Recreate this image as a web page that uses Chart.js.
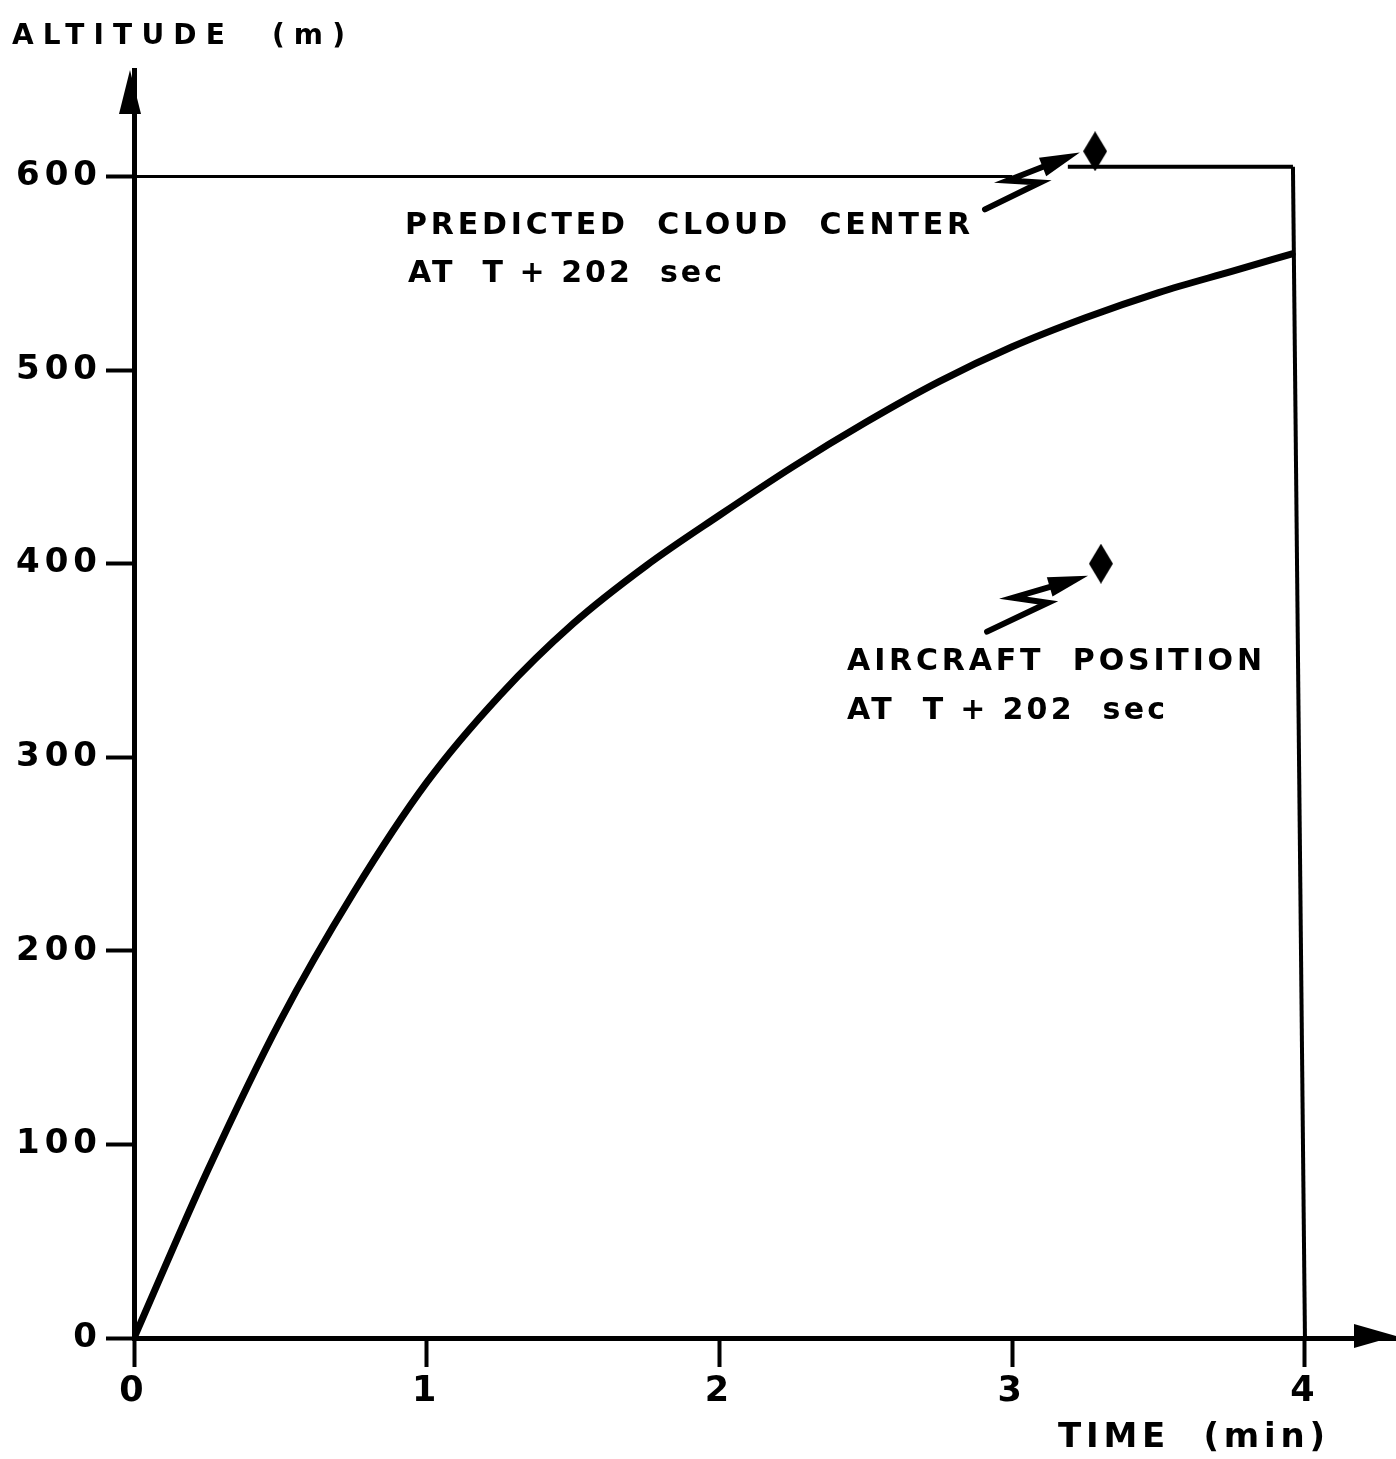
<!DOCTYPE html>
<html>
<head>
<meta charset="utf-8">
<script src="https://cdn.jsdelivr.net/npm/chart.js@4.4.1/dist/chart.umd.min.js"></script>
<style>
  html, body { margin: 0; padding: 0; background: #fff; overflow: hidden; }
  canvas { display: block; }
</style>
</head>
<body>
<canvas id="chart" width="1396" height="1459"></canvas>
<script>
// Cloud-top altitude versus time after release
const timeMin = [0, 0.25, 0.5, 0.75, 1.0, 1.25, 1.5, 1.75, 2.0, 2.25, 2.5, 2.75, 3.0, 3.25, 3.5, 3.75, 3.956];
const altitudeM = [0, 86, 164, 230, 287, 332, 369, 399, 425, 450, 473, 494, 512, 527, 540, 551, 560];

// Reference lines
const cloudLevelTime = [0, 3.0];
const cloudLevelAlt = [600, 600];
const boxTopTime = [3.19, 3.959];
const boxTopAlt = [605, 605];
const boxSideTime = [3.959, 4.0];
const boxSideAlt = [605, 0];

// Marked positions at T+202 s: predicted cloud centre, aircraft
const markerTime = [3.283, 3.303];
const markerAlt = [613, 400];

// Axis ticks
const xTickValues = [0, 1, 2, 3, 4];
const yTickValues = [0, 100, 200, 300, 400, 500, 600];

const FONT = "'DejaVu Sans', sans-serif";

function toXY(xs, ys) { return xs.map((x, i) => ({ x: x, y: ys[i] })); }

// Tall diamond marker
function diamondImage(w, h) {
  const c = document.createElement('canvas');
  c.width = w; c.height = h;
  const g = c.getContext('2d');
  g.fillStyle = '#000';
  g.beginPath();
  g.moveTo(w / 2, 0); g.lineTo(w, h / 2); g.lineTo(w / 2, h); g.lineTo(0, h / 2);
  g.closePath(); g.fill();
  return c;
}
const diamond = diamondImage(24, 40);

// Lettering spread evenly across a given width
function spacedText(ctx, text, x, y, width, font) {
  ctx.font = font;
  ctx.letterSpacing = '0px';
  const w = ctx.measureText(text).width;
  const ls = Math.max(0, (width - w) / (text.length - 1));
  ctx.letterSpacing = ls.toFixed(2) + 'px';
  ctx.fillText(text, x, y);
}

// Annotations (data units for anchor, pixel widths for lettering)
const labels = [
  { t: 0.926, a: 570.5, w: 565, size: 30, text: 'PREDICTED  CLOUD  CENTER' },
  { t: 0.936, a: 545.7, w: 314, size: 30, text: 'AT  T + 202  sec' },
  { t: 2.436, a: 345.2, w: 415, size: 30, text: 'AIRCRAFT  POSITION' },
  { t: 2.436, a: 319.6, w: 318, size: 30, text: 'AT  T + 202  sec' }
];
const boltArrows = [
  [[2.907, 583.0], [3.095, 596.9], [2.985, 597.9], [3.231, 612.4]],
  [[2.914, 364.9], [3.122, 379.8], [3.003, 382.4], [3.259, 393.8]]
];

const decorations = {
  id: 'decorations',
  beforeDraw(chart) {
    chart.ctx.letterSpacing = '5px';
  },
  afterDraw(chart) {
    const { ctx, chartArea, scales } = chart;
    const xs = scales.x, ys = scales.y;
    ctx.save();
    ctx.fillStyle = '#000';
    ctx.strokeStyle = '#000';

    // axis arrowheads
    ctx.beginPath();
    ctx.moveTo(chartArea.left - 4, chartArea.top);
    ctx.lineTo(chartArea.left - 15, chartArea.top + 44);
    ctx.lineTo(chartArea.left + 7, chartArea.top + 44);
    ctx.closePath(); ctx.fill();
    ctx.beginPath();
    ctx.moveTo(chartArea.right, chartArea.bottom - 2);
    ctx.lineTo(chartArea.right - 42, chartArea.bottom - 14);
    ctx.lineTo(chartArea.right - 42, chartArea.bottom + 10);
    ctx.closePath(); ctx.fill();

    // axis titles
    ctx.textBaseline = 'alphabetic';
    ctx.textAlign = 'left';
    spacedText(ctx, 'ALTITUDE  (m)', 12, 44, 333, 'bold 28px ' + FONT);
    spacedText(ctx, 'TIME  (min)', 1058, 1447, 267, 'bold 34px ' + FONT);

    // annotation text
    labels.forEach(l => {
      spacedText(ctx, l.text, xs.getPixelForValue(l.t), ys.getPixelForValue(l.a), l.w, 'bold ' + l.size + 'px ' + FONT);
    });

    // lightning-bolt pointers
    ctx.lineWidth = 6;
    ctx.lineCap = 'round';
    ctx.lineJoin = 'miter';
    boltArrows.forEach(pts => {
      const p = pts.map(q => [xs.getPixelForValue(q[0]), ys.getPixelForValue(q[1])]);
      const tip = p[3], from = p[2];
      const ang = Math.atan2(tip[1] - from[1], tip[0] - from[0]);
      const len = 40, half = 10;
      const bx = tip[0] - len * Math.cos(ang), by = tip[1] - len * Math.sin(ang);
      ctx.beginPath();
      ctx.moveTo(p[0][0], p[0][1]);
      ctx.lineTo(p[1][0], p[1][1]);
      ctx.lineTo(p[2][0], p[2][1]);
      ctx.lineTo(bx + 4 * Math.cos(ang), by + 4 * Math.sin(ang));
      ctx.stroke();
      ctx.beginPath();
      ctx.moveTo(tip[0], tip[1]);
      ctx.lineTo(bx - half * Math.sin(ang), by + half * Math.cos(ang));
      ctx.lineTo(bx + half * Math.sin(ang), by - half * Math.cos(ang));
      ctx.closePath(); ctx.fill();
    });
    ctx.restore();
  }
};

new Chart(document.getElementById('chart'), {
  type: 'scatter',
  data: {
    datasets: [
      {
        label: 'Altitude',
        data: toXY(timeMin, altitudeM),
        showLine: true,
        borderColor: '#000',
        borderWidth: 7,
        pointRadius: 0,
        cubicInterpolationMode: 'monotone',
        borderCapStyle: 'round'
      },
      {
        label: 'Cloud level',
        data: toXY(cloudLevelTime, cloudLevelAlt),
        showLine: true, borderColor: '#000', borderWidth: 3, pointRadius: 0
      },
      {
        label: 'Box top',
        data: toXY(boxTopTime, boxTopAlt),
        showLine: true, borderColor: '#000', borderWidth: 4, pointRadius: 0
      },
      {
        label: 'Box side',
        data: toXY(boxSideTime, boxSideAlt),
        showLine: true, borderColor: '#000', borderWidth: 4, pointRadius: 0
      },
      {
        label: 'Positions',
        data: toXY(markerTime, markerAlt),
        showLine: false,
        pointStyle: diamond,
        pointRadius: 12
      }
    ]
  },
  options: {
    responsive: false,
    animation: false,
    events: [],
    layout: { autoPadding: false, padding: { top: 70, left: 0, right: 0, bottom: 0 } },
    plugins: { legend: { display: false }, tooltip: { enabled: false } },
    scales: {
      x: {
        type: 'linear',
        min: 0,
        max: 4.311,
        afterBuildTicks: s => { s.ticks = xTickValues.map(v => ({ value: v })); },
        afterFit: s => { s.height = 121; s.paddingLeft = 0; s.paddingRight = 0; },
        border: { display: true, color: '#000', width: 5 },
        grid: { display: true, drawOnChartArea: false, drawTicks: true, tickLength: 29, tickWidth: 4, tickColor: '#000' },
        ticks: { color: '#000', font: { family: FONT, size: 35, weight: 'bold' }, padding: 4, maxRotation: 0 }
      },
      y: {
        type: 'linear',
        min: 0,
        max: 655,
        afterBuildTicks: s => { s.ticks = yTickValues.map(v => ({ value: v })); },
        afterFit: s => { s.width = 134; s.paddingTop = 0; s.paddingBottom = 0; },
        border: { display: true, color: '#000', width: 5 },
        grid: { display: true, drawOnChartArea: false, drawTicks: true, tickLength: 28, tickWidth: 4, tickColor: '#000' },
        ticks: { color: '#000', font: { family: FONT, size: 34, weight: 'bold' }, padding: 4 }
      }
    }
  },
  plugins: [decorations]
});
</script>
</body>
</html>
